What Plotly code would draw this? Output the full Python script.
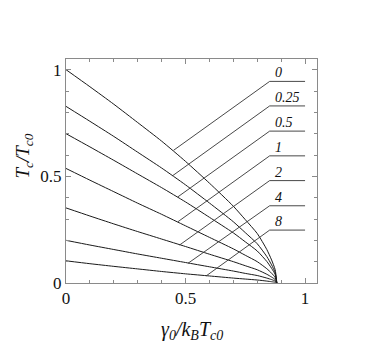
import plotly.graph_objects as go

# ---- data ----
x_vals = [0, 0.1, 0.2, 0.3, 0.4, 0.5, 0.6, 0.7, 0.75, 0.8, 0.84, 0.86, 0.875, 0.882]
curve_0 = [1.0, 0.92, 0.838, 0.752, 0.665, 0.57, 0.468, 0.36, 0.297, 0.232, 0.157, 0.108, 0.062, 0]
curve_025 = [0.828, 0.758, 0.687, 0.613, 0.539, 0.46, 0.375, 0.287, 0.236, 0.184, 0.124, 0.085, 0.049, 0]
curve_05 = [0.70, 0.638, 0.575, 0.511, 0.447, 0.38, 0.308, 0.235, 0.193, 0.15, 0.101, 0.069, 0.040, 0]
curve_1 = [0.537, 0.482, 0.428, 0.374, 0.322, 0.268, 0.214, 0.16, 0.13, 0.10, 0.067, 0.046, 0.026, 0]
curve_2 = [0.352, 0.314, 0.277, 0.241, 0.206, 0.171, 0.135, 0.10, 0.081, 0.062, 0.041, 0.028, 0.016, 0]
curve_4 = [0.20, 0.178, 0.157, 0.136, 0.116, 0.096, 0.076, 0.056, 0.045, 0.035, 0.023, 0.016, 0.009, 0]
curve_8 = [0.104, 0.0905, 0.078, 0.066, 0.054, 0.043, 0.033, 0.023, 0.0185, 0.014, 0.009, 0.006, 0.0034, 0]
curves = [curve_0, curve_025, curve_05, curve_1, curve_2, curve_4, curve_8]

labels = ["0", "0.25", "0.5", "1", "2", "4", "8"]
leader_start_x = [0.45, 0.446, 0.467, 0.468, 0.475, 0.51, 0.586]
leader_start_y = [0.622, 0.503, 0.403, 0.287, 0.178, 0.092, 0.033]
label_level = [0.945, 0.830, 0.712, 0.596, 0.480, 0.362, 0.248]
leader_elbow_x = 0.852
leader_end_x = 1.0

x_ticks = [0, 0.5, 1]
x_ticktext = ["0", "0.5", "1"]
y_ticks = [0, 0.5, 1]
y_ticktext = ["0", "0.5", "1"]

SERIF = "Liberation Serif"
CURVE_COLOR = "#1a1a1a"
LEADER_COLOR = "#333333"
FRAME_COLOR = "#8a8a8a"

fig = go.Figure()
for ys in curves:
    fig.add_trace(go.Scatter(x=x_vals, y=ys, mode="lines",
                             line=dict(color=CURVE_COLOR, width=1, shape="spline", smoothing=0.6),
                             showlegend=False, hoverinfo="skip"))

for sx, sy, lv in zip(leader_start_x, leader_start_y, label_level):
    fig.add_trace(go.Scatter(x=[sx, leader_elbow_x, leader_end_x], y=[sy, lv, lv], mode="lines",
                             line=dict(color=LEADER_COLOR, width=0.9),
                             showlegend=False, hoverinfo="skip"))

for lab, lv in zip(labels, label_level):
    fig.add_annotation(x=0.864, y=lv, text="<i>" + lab + "</i>", showarrow=False,
                       xanchor="left", yanchor="bottom", yshift=-1,
                       font=dict(family=SERIF, size=14, color="#111"))

axis_common = dict(range=[0, 1.05], showgrid=False, zeroline=False,
                   showline=True, linecolor=FRAME_COLOR, linewidth=1, mirror="allticks",
                   ticks="inside", ticklen=5, tickwidth=1, tickcolor=FRAME_COLOR,
                   tickfont=dict(family=SERIF, size=17, color="#111"),
                   minor=dict(dtick=0.1, ticks="inside", ticklen=3, tickcolor=FRAME_COLOR, showgrid=False))

fig.update_xaxes(tickvals=x_ticks, ticktext=x_ticktext, **axis_common)
fig.update_yaxes(tickvals=y_ticks, ticktext=y_ticktext, **axis_common)

fig.add_annotation(x=0.5, xref="paper", y=-0.214, yref="paper", yanchor="middle",
                   text="<i>γ<sub>0</sub>/k<sub>B</sub>T<sub>c0</sub></i>", showarrow=False,
                   font=dict(family=SERIF, size=20, color="#111"))
fig.add_annotation(x=-0.225, xref="paper", y=0.567, yref="paper", textangle=-90,
                   text="<i>T<sub>c</sub>/T<sub>c0</sub></i>", showarrow=False,
                   font=dict(family=SERIF, size=19, color="#111"))

# page has an 8px body margin, so the figure is offset by 8px
fig.update_layout(width=374, height=335, margin=dict(l=58, r=65, t=51, b=60),
                  plot_bgcolor="white", paper_bgcolor="white")

fig.write_html("out.html")
